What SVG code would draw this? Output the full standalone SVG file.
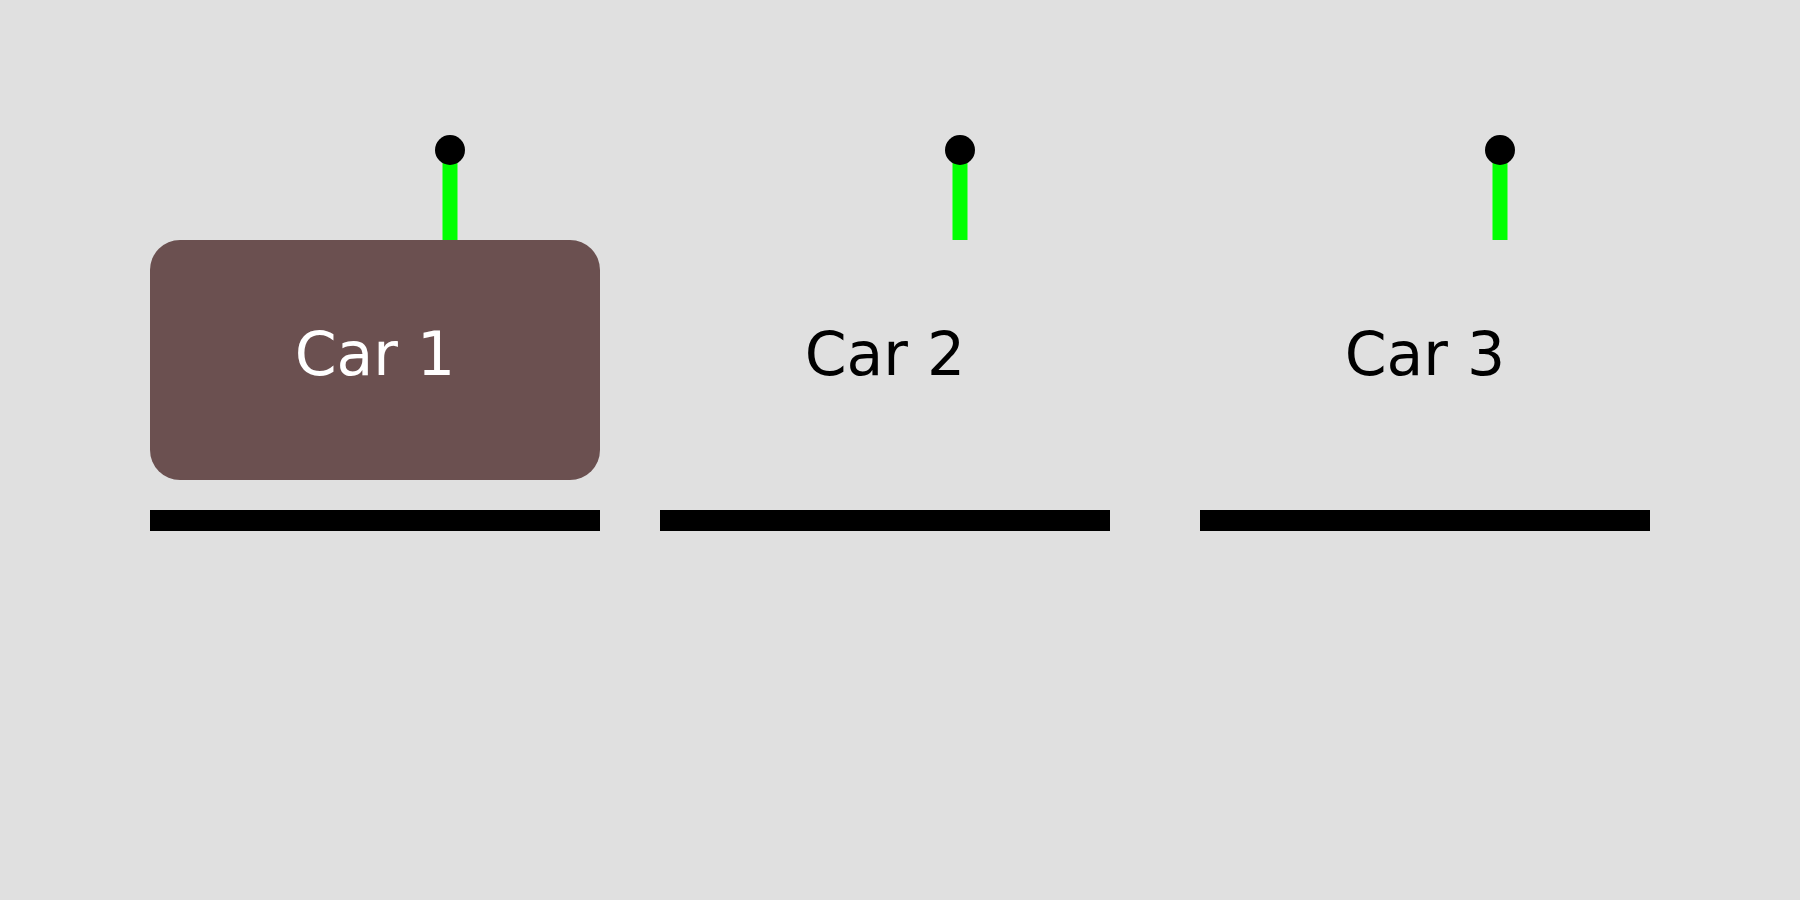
<svg xmlns="http://www.w3.org/2000/svg" width="1800" height="900" viewBox="0 0 1800 900">
<style>
.bg{fill:#e0e0e0}
.car{fill:#6b5050}
.lbl{font-family:"DejaVu Sans",sans-serif;font-size:60px;text-anchor:middle}
.rail{fill:#000}
.ant{stroke:#00ff00;stroke-width:15}
.tip{fill:#000}
</style>
<rect class="bg" x="0" y="0" width="1800" height="900"/>
<g id="connectors">
<line class="ant" x1="450" y1="150" x2="450" y2="240"/>
<line class="ant" x1="960" y1="150" x2="960" y2="240"/>
<line class="ant" x1="1500" y1="150" x2="1500" y2="240"/>
<circle class="tip" cx="450" cy="150" r="15"/>
<circle class="tip" cx="960" cy="150" r="15"/>
<circle class="tip" cx="1500" cy="150" r="15"/>
</g>
<g id="car1">
<rect class="car" x="150" y="240" width="450" height="240" rx="30" ry="30"/>
<text class="lbl" x="375" y="375" fill="#ffffff">Car 1</text>
<rect class="rail" x="150" y="510" width="450" height="21"/>
</g>
<g id="car2">
<text class="lbl" x="885" y="375" fill="#000000">Car 2</text>
<rect class="rail" x="660" y="510" width="450" height="21"/>
</g>
<g id="car3">
<text class="lbl" x="1425" y="375" fill="#000000">Car 3</text>
<rect class="rail" x="1200" y="510" width="450" height="21"/>
</g>
</svg>
